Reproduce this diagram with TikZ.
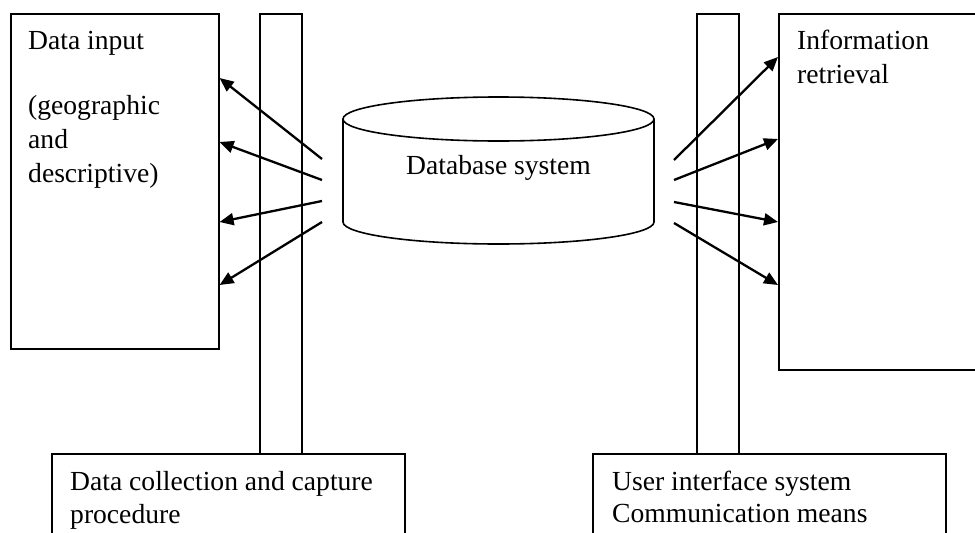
\documentclass[tikz,border=0pt]{standalone}
\usepackage{fontspec}
\setmainfont{Liberation Serif}
\usetikzlibrary{arrows.meta}
\begin{document}
\begin{tikzpicture}[x=1pt,y=-1pt,
  box/.style={draw, line width=1.6pt, rectangle, inner sep=0pt, anchor=north west, fill=white},
  lbl/.style={anchor=base west, inner sep=0pt, font=\fontsize{27.6}{33}\selectfont},
  arr/.style={line width=2.3pt, -{Triangle[length=14pt,width=12pt]}},
]
\useasboundingbox (0,0) rectangle (975,533);
\clip (0,0) rectangle (975,533);

% bars
\node[box, minimum width=42pt, minimum height=440pt] (lbar) at (259,13) {};
\node[box, minimum width=42pt, minimum height=440pt] (rbar) at (696,13) {};

% boxes
\node[box, fill=none, minimum width=208pt, minimum height=335pt] (input) at (10,13) {};
\node[box, fill=none, minimum width=200pt, minimum height=356pt] (output) at (778,13) {};
\node[box, minimum width=353pt, minimum height=100pt] (collect) at (51,453) {};
\node[box, minimum width=353pt, minimum height=100pt] (ui) at (592,453) {};

% cylinder
\draw[line width=1.6pt] (343,119) -- (343,222)
  arc[start angle=180, end angle=360, x radius=155.5pt, y radius=22pt] -- (654,119);
\draw[line width=1.6pt] (498.5,119) ellipse [x radius=155.5pt, y radius=22pt];
\node[lbl, anchor=base] (db) at (498.5,174) {Database system};

% labels
\node[lbl] (t1) at (28,49) {Data input};
\node[lbl] (t2) at (28,114) {(geographic};
\node[lbl] (t3) at (28,148) {and};
\node[lbl] (t4) at (28,182) {descriptive)};
\node[lbl] (t5) at (797,49) {Information};
\node[lbl] (t6) at (797,83) {retrieval};
\node[lbl] (t7) at (70,490) {Data collection and capture};
\node[lbl] (t8) at (70,523) {procedure};
\node[lbl] (t9) at (612,490) {User interface system};
\node[lbl] (t10) at (612,522) {Communication means};

% arrow starts
\coordinate (ls1) at (322,159);
\coordinate (ls2) at (322,180);
\coordinate (ls3) at (322,201);
\coordinate (ls4) at (322,222);
\coordinate (rs1) at (674,160);
\coordinate (rs2) at (674,180);
\coordinate (rs3) at (674,202);
\coordinate (rs4) at (674,223);

\draw[arr] (ls1) -- (input.east |- 0,78);
\draw[arr] (ls2) -- (input.east |- 0,142);
\draw[arr] (ls3) -- (input.east |- 0,222);
\draw[arr] (ls4) -- (input.east |- 0,285);
\draw[arr] (rs1) -- (output.west |- 0,57);
\draw[arr] (rs2) -- (output.west |- 0,139);
\draw[arr] (rs3) -- (output.west |- 0,222);
\draw[arr] (rs4) -- (output.west |- 0,285);
\end{tikzpicture}
\end{document}
